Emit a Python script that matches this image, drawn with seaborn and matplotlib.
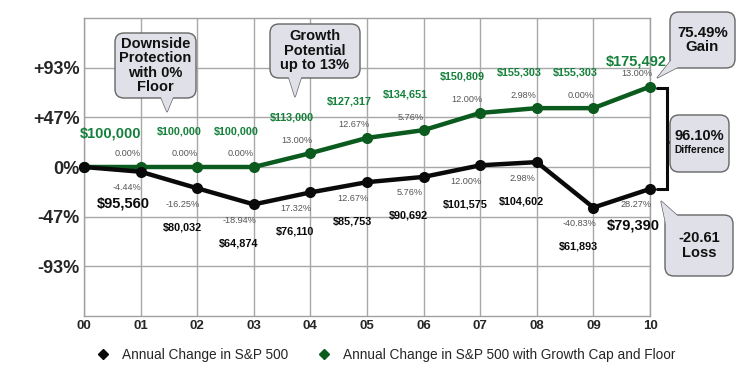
import seaborn as sns
import matplotlib.pyplot as plt
import matplotlib.transforms as mtransforms
from matplotlib.patches import FancyBboxPatch, Polygon
from matplotlib.lines import Line2D
import pandas as pd

# data
years = ['00', '01', '02', '03', '04', '05', '06', '07', '08', '09', '10']
sp500_values = [100000, 95560, 80032, 64874, 76110, 85753, 90692, 101575, 104602, 61893, 79390]
capped_values = [100000, 100000, 100000, 100000, 113000, 127317, 134651, 150809, 155303, 155303, 175492]
sp500_changes = ['', '-4.44%', '-16.25%', '-18.94%', '17.32%', '12.67%', '5.76%', '12.00%', '2.98%', '-40.83%', '28.27%']
capped_changes = ['', '0.00%', '0.00%', '0.00%', '13.00%', '12.67%', '5.76%', '12.00%', '2.98%', '0.00%', '13.00%']
y_ticks = [-93.33, -46.67, 0, 46.67, 93.33]
y_tick_labels = ['-93%', '-47%', '0%', '+47%', '+93%']
series_names = ['Annual Change in S&P 500', 'Annual Change in S&P 500 with Growth Cap and Floor']

BLACK = '#0a0a0a'
GREEN = '#0b5a1e'
GREEN_TXT = '#14803a'
GRAY_TXT = '#555555'
BUBBLE = '#dfe0e8'

df = pd.DataFrame({
    'x': list(range(len(years))) * 2,
    'growth': [(v / 1000 - 100) for v in sp500_values] + [(v / 1000 - 100) for v in capped_values],
    'series': [series_names[0]] * len(years) + [series_names[1]] * len(years),
})

sns.set_style('white')
plt.rcParams['font.family'] = ['Liberation Sans', 'DejaVu Sans']

fig = plt.figure(figsize=(7.5, 3.75), dpi=100)
ax = fig.add_axes([84 / 750, 59 / 375, 566 / 750, 298 / 375])

# green first so the black line sits on top at the shared start point
sns.lineplot(data=df, x='x', y='growth', hue='series',
             palette={series_names[0]: BLACK, series_names[1]: GREEN},
             hue_order=series_names[::-1], marker='o', markersize=8, linewidth=3.2,
             markeredgewidth=0, legend=False, ax=ax, clip_on=False, zorder=5)

ax.set_xlim(0, 10)
ax.set_ylim(-140, 140)
ax.set_xticks(range(len(years)))
ax.set_xticklabels(years, fontsize=9.5, fontweight='bold')
ax.set_yticks(y_ticks)
ax.set_yticklabels(y_tick_labels, fontsize=13, fontweight='bold')
ax.set_xlabel('')
ax.set_ylabel('')
ax.tick_params(length=0, pad=3)
ax.grid(True, color='#a8a8a8', linewidth=1)
for s in ax.spines.values():
    s.set_color('#a0a0a0')
    s.set_linewidth(1)

PX = 0.72  # points per pixel


def note(txt, x, y, dx, dy, color, size, bold=True):
    ax.annotate(txt, (x, y), xytext=(dx * PX, -dy * PX), textcoords='offset points',
                ha='center', va='center', color=color, fontsize=size,
                fontweight='bold' if bold else 'normal', zorder=6)


for i in range(len(years)):
    gy = capped_values[i] / 1000 - 100
    by = sp500_values[i] / 1000 - 100
    # green series labels
    if i == 0:
        note('${:,}'.format(capped_values[i]), i, gy, 27, -33, GREEN_TXT, 10.5)
    elif i == len(years) - 1:
        note('${:,}'.format(capped_values[i]), i, gy, -14, -25, GREEN_TXT, 10.5)
    elif i > 1:
        note('${:,}'.format(capped_values[i]), i, gy, -18, -36, GREEN_TXT, 7.8)
    if capped_changes[i]:
        note(capped_changes[i], i, gy, -13, -13, GRAY_TXT, 6.6, bold=False)
    # black series labels
    if sp500_changes[i]:
        note(sp500_changes[i], i, by, -14, 16, GRAY_TXT, 6.6, bold=False)
    if i == 0:
        continue
    if i in (1, len(years) - 1):
        note('${:,}'.format(sp500_values[i]), i, by, -17, 32 if i == 1 else 37, BLACK, 10.5)
    else:
        note('${:,}'.format(sp500_values[i]), i, by, -15, 39, BLACK, 7.8)

# pixel coordinate helper (origin top-left)
pix = mtransforms.Affine2D().scale(1 / 750, -1 / 375).translate(0, 1) + fig.transFigure


def bubble(x0, y0, x1, y1, lines, pointer=None):
    if pointer is not None:
        fig.patches.append(Polygon(pointer, closed=True, facecolor=BUBBLE, edgecolor='#666666',
                                   linewidth=1, transform=pix, zorder=10))
    fig.patches.append(FancyBboxPatch((x0, y0), x1 - x0, y1 - y0,
                                      boxstyle='round,pad=0,rounding_size=9',
                                      facecolor=BUBBLE, edgecolor='#666666', linewidth=1,
                                      transform=pix, zorder=11))
    if pointer is not None:
        fig.patches.append(Polygon(pointer, closed=True, facecolor=BUBBLE, edgecolor='none',
                                   transform=pix, zorder=12))
    n = len(lines)
    cy = (y0 + y1) / 2
    step = 14.5
    for k, (t, sz) in enumerate(lines):
        ty = cy + (k - (n - 1) / 2) * step
        if n == 2 and sz < 9:
            ty -= 1
        fig.text((x0 + x1) / 2, ty, t, transform=pix, ha='center', va='center',
                 fontsize=sz, fontweight='bold', color='#111111', zorder=13)


bubble(115, 33, 196, 98, [('Downside', 10.5), ('Protection', 10.5), ('with 0%', 10.5), ('Floor', 10.5)],
       pointer=[(160, 95), (167, 112), (174, 95)])
bubble(270, 24, 360, 78, [('Growth', 10.5), ('Potential', 10.5), ('up to 13%', 10.5)],
       pointer=[(288, 75), (295, 97), (302, 75)])
bubble(670, 12, 735, 68, [('75.49%', 10.8), ('Gain', 10.8)],
       pointer=[(673, 58), (657, 78), (682, 65)])
bubble(670, 115, 729, 172, [('96.10%', 10.5), ('Difference', 7.4)])
bubble(665, 215, 733, 276, [('-20.61', 10.5), ('Loss', 10.5)],
       pointer=[(668, 234), (661, 201), (680, 218)])

# bracket linking the two end points
fig.add_artist(Line2D([657, 667, 667, 657], [88, 88, 189, 189], transform=pix,
                      color=BLACK, linewidth=2.2, solid_joinstyle='miter'))
fig.add_artist(Line2D([667, 672], [142, 142], transform=pix, color=BLACK, linewidth=2.2))

handles = [Line2D([], [], marker='D', color=BLACK, linestyle='none', markersize=5),
           Line2D([], [], marker='D', color=GREEN, linestyle='none', markersize=5)]
fig.legend(handles, series_names, loc='center', bbox_to_anchor=(0.51, 1 - 355 / 375), ncol=2,
           frameon=False, fontsize=9.8, handletextpad=0.4, columnspacing=1.6)

fig.savefig('out.png', dpi=100)
